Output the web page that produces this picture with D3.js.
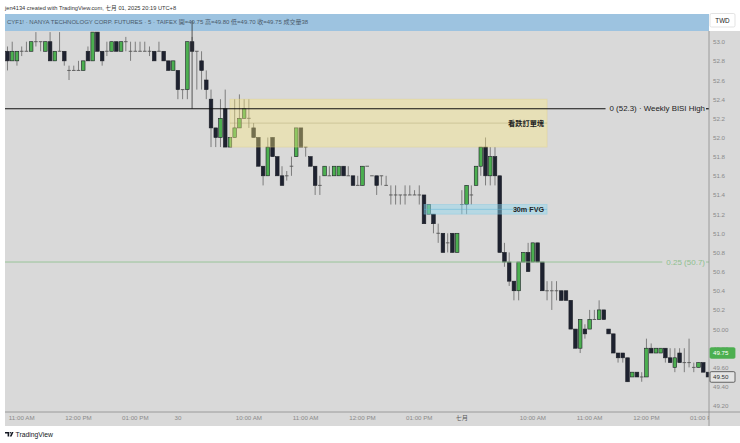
<!DOCTYPE html>
<html><head><meta charset="utf-8">
<script src="https://cdn.jsdelivr.net/npm/d3@7"></script>
<style>
body{margin:0;background:#fff;}
svg{display:block;font-family:"Liberation Sans",Arial,"Noto Sans CJK TC",sans-serif;}
</style>
</head><body>
<svg id="c" width="740" height="443"></svg>
<script>
// ---- DATA: 5-minute bars [open, high, low, close] ----
// Day 1 (27 Jun) from 10:45
const day1Bars = [
[52.90,52.95,52.70,52.80],[52.80,53.00,52.80,52.90],[52.80,52.90,52.75,52.90],[52.90,52.95,52.85,52.90],
[52.90,53.00,52.90,52.90],[52.90,53.00,52.90,53.00],[53.00,53.10,52.95,53.00],[53.00,53.00,52.90,53.00],
[52.90,53.00,52.90,53.00],[53.00,53.10,52.80,52.80],[52.80,52.90,52.80,52.90],[52.90,53.10,52.90,52.90],
[52.90,52.90,52.75,52.80],[52.70,52.75,52.60,52.70],[52.70,52.75,52.70,52.70],[52.70,52.80,52.70,52.70],
[52.70,52.80,52.70,52.80],[52.90,52.95,52.80,52.80],[52.80,53.10,52.80,53.10],[53.10,53.10,52.90,52.90],
[52.90,52.90,52.75,52.80],[52.90,53.00,52.85,52.90],[52.90,53.00,52.90,53.00],[53.00,53.00,52.90,52.90],
[52.90,53.00,52.90,53.00],[53.00,53.05,52.90,53.00],[52.90,53.00,52.80,52.90],[52.90,53.00,52.90,52.90],
[52.90,53.00,52.90,52.90],[52.90,53.00,52.90,52.90],[52.90,52.95,52.85,52.90],[52.90,52.90,52.80,52.80],
[52.90,53.00,52.90,52.90],[52.90,52.90,52.80,52.80],[52.80,52.80,52.70,52.70],[52.70,52.80,52.70,52.80]
];
// Day 2 (30 Jun) from 08:45
const day2Bars = [
[52.70,52.70,52.40,52.50],[52.50,52.50,52.40,52.50],[52.50,53.00,52.40,53.00],[53.00,53.05,52.90,52.90],
[52.90,52.90,52.50,52.90],[52.80,52.90,52.50,52.70],[52.60,52.70,52.40,52.50],[52.40,52.50,51.90,52.10],
[52.10,52.10,51.90,52.00],[52.00,52.40,51.90,52.20],[52.30,52.50,51.90,51.90],[51.90,52.00,51.90,52.00],
[52.00,52.40,52.00,52.10],[52.10,52.45,52.10,52.20],[52.20,52.40,52.20,52.30],[52.20,52.40,52.10,52.20],
[52.10,52.15,52.00,52.00],[52.00,52.00,51.70,51.70],[51.70,51.70,51.50,51.60],[51.60,52.00,51.60,51.90],
[52.00,52.00,51.80,51.80],[51.80,51.80,51.60,51.60],[51.60,51.70,51.50,51.50],[51.60,51.65,51.55,51.60],
[51.70,51.80,51.60,51.70],[51.80,52.10,51.80,52.10],[52.10,52.10,51.90,51.90],[51.90,51.90,51.80,51.90],
[51.80,51.80,51.70,51.70],[51.70,51.70,51.40,51.50],[51.50,51.60,51.40,51.50],[51.60,51.70,51.60,51.70],
[51.60,51.70,51.60,51.60],[51.60,51.70,51.60,51.70],[51.60,51.70,51.60,51.70],[51.70,51.70,51.60,51.60],
[51.60,51.70,51.60,51.60],[51.60,51.60,51.50,51.50],[51.50,51.60,51.50,51.50],[51.50,51.70,51.50,51.70],
[51.70,51.70,51.70,51.70],[51.60,51.60,51.60,51.60],[51.60,51.60,51.40,51.50],[51.60,51.60,51.50,51.60],
[51.50,51.60,51.50,51.50],[51.40,51.50,51.30,51.40],[51.40,51.50,51.30,51.40],[51.40,51.40,51.30,51.40],
[51.40,51.50,51.30,51.40],[51.40,51.50,51.40,51.40],[51.40,51.45,51.40,51.40],[51.40,51.50,51.30,51.40],
[51.40,51.40,51.10,51.10],[51.20,51.30,51.20,51.30],[51.20,51.20,51.00,51.10],[51.00,51.10,50.90,51.00],
[51.00,51.00,50.80,50.80],[50.90,51.00,50.80,50.90],[51.00,51.00,50.80,50.80],[50.80,51.00,50.80,51.00]
];
// Day 3 (01 Jul) from 08:45
const day3Bars = [
[51.30,51.45,51.20,51.30],[51.30,51.50,51.20,51.50],[51.40,51.50,51.30,51.40],[51.50,51.70,51.50,51.70],
[51.70,51.90,51.60,51.90],[51.90,52.00,51.50,51.60],[51.60,51.90,51.50,51.80],[51.80,51.90,51.50,51.60],
[51.60,51.60,50.80,50.80],[50.80,50.90,50.65,50.70],[50.70,50.80,50.45,50.50],[50.50,50.50,50.30,50.40],
[50.40,50.70,50.30,50.70],[50.70,50.80,50.70,50.80],[50.80,50.90,50.60,50.60],[50.70,50.90,50.70,50.90],
[50.90,50.90,50.70,50.70],[50.70,50.70,50.40,50.40],[50.40,50.50,50.30,50.40],[50.40,50.50,50.20,50.40],
[50.40,50.50,50.30,50.40],[50.40,50.40,50.30,50.30],[50.40,50.40,50.30,50.30],[50.30,50.30,50.00,50.00],
[50.00,50.00,49.80,49.80],[49.80,50.10,49.75,50.10],[50.00,50.05,49.90,49.95],[50.00,50.20,50.00,50.10],
[50.10,50.20,50.10,50.10],[50.10,50.30,50.10,50.20],[50.20,50.20,50.10,50.10],[50.00,50.00,49.95,49.95],
[49.95,49.95,49.75,49.75],[49.75,49.75,49.65,49.70],[49.75,49.75,49.65,49.70],[49.70,49.70,49.45,49.45],
[49.50,49.55,49.50,49.55],[49.55,49.55,49.50,49.50],[49.50,49.55,49.45,49.50],[49.50,49.90,49.50,49.80],
[49.80,49.85,49.75,49.75],[49.75,49.80,49.75,49.80],[49.75,49.80,49.75,49.80],[49.80,49.80,49.65,49.70],
[49.70,49.80,49.65,49.65],[49.60,49.80,49.55,49.70],[49.75,49.80,49.65,49.65],[49.65,49.80,49.55,49.65],
[49.65,49.90,49.60,49.65],[49.60,49.65,49.55,49.60],[49.60,49.65,49.60,49.65],[49.65,49.65,49.55,49.55],
[49.55,49.55,49.50,49.50]
];
const sessions = [
  {day:"d1", start:"10:45", bars:day1Bars},
  {day:"d2", start:"08:45", bars:day2Bars},
  {day:"d3", start:"08:45", bars:day3Bars}
];
const tickKeys   = ["d1 11:00","d1 12:00","d1 13:00","d2 08:45","d2 10:00","d2 11:00","d2 12:00","d2 13:00","d3 08:45","d3 10:00","d3 11:00","d3 12:00","d3 13:00"];
const tickLabels = ["11:00 AM","12:00 PM","01:00 PM","30","10:00 AM","11:00 AM","12:00 PM","01:00 PM","七月","10:00 AM","11:00 AM","12:00 PM","01:00 PM"];
const monthTickLabels = ["七月"];
const priceTicks = [53.0,52.8,52.6,52.4,52.2,52.0,51.8,51.6,51.4,51.2,51.0,50.8,50.6,50.4,50.2,50.0,49.8,49.6,49.4,49.2];
const lastPrice = 49.75, markPrice = 49.50;
const bisiLevel = 52.3, fibLevel = 50.7;
const obZone = {top:52.40, bottom:51.90, mid:52.15, from:"d2 09:40", to:"d3 10:15", label:"看跌訂單塊"};
const fvgZone = {top:51.30, bottom:51.20, mid:51.25, from:"d2 13:05", to:"d3 10:15", label:"30m FVG"};
const crossKey = "d2 09:00";

// ---- build bars ----
function addMin(t, m){const [h,mm]=t.split(":").map(Number);const v=h*60+mm+m;return String(Math.floor(v/60)).padStart(2,"0")+":"+String(v%60).padStart(2,"0");}
const bars = [];
sessions.forEach(s => s.bars.forEach((b,i) => bars.push({key:s.day+" "+addMin(s.start,i*5), o:b[0], h:b[1], l:b[2], c:b[3]})));

const svg = d3.select("#c");
const L = 5, R = 709, T = 31, B = 412;
const step = 4.733;
const x = d3.scaleBand().domain(bars.map(d=>d.key)).range([5.13, 5.13 + bars.length*step]);
const cx = k => x(k) + x.bandwidth()/2;
const y = d3.scaleLinear().domain([49.2, 53.0]).range([405.7, 41.7]);

// backgrounds
svg.append("rect").attr("x",L).attr("y",T).attr("width",740-L).attr("height",426-T).attr("fill","#d9d9d9");
svg.append("rect").attr("x",L).attr("y",14).attr("width",R-L).attr("height",T-14).attr("fill","#9dc3e0");

const defs = svg.append("defs");
defs.append("clipPath").attr("id","plot").append("rect")
  .attr("x",L).attr("y",T).attr("width",R-L).attr("height",B-T);
defs.append("clipPath").attr("id","xax").append("rect")
  .attr("x",L).attr("y",0).attr("width",R-L).attr("height",14);

const plot = svg.append("g").attr("clip-path","url(#plot)");

// vertical marker line
svg.append("line").attr("x1",cx(crossKey)).attr("x2",cx(crossKey)).attr("y1",21).attr("y2",y(bisiLevel))
  .attr("stroke","#333").attr("stroke-width",0.8);

// candles
const bw = 3.6;
const cg = plot.append("g");
cg.selectAll("line.w").data(bars).join("line").attr("class","w")
  .attr("x1",d=>cx(d.key)).attr("x2",d=>cx(d.key)).attr("y1",d=>y(d.h)).attr("y2",d=>y(d.l))
  .attr("stroke","#666").attr("stroke-width",0.8);
cg.selectAll("rect.b").data(bars.filter(d=>d.o!==d.c)).join("rect").attr("class","b")
  .attr("x",d=>cx(d.key)-bw/2).attr("width",bw)
  .attr("y",d=>y(Math.max(d.o,d.c))).attr("height",d=>Math.abs(y(d.o)-y(d.c)))
  .attr("fill",d=>d.c>d.o?"#4caf50":"#1e2230")
  .attr("stroke","#1c1f26").attr("stroke-width",0.6);
cg.selectAll("line.d").data(bars.filter(d=>d.o===d.c)).join("line").attr("class","d")
  .attr("x1",d=>cx(d.key)-bw/2).attr("x2",d=>cx(d.key)+bw/2).attr("y1",d=>y(d.c)).attr("y2",d=>y(d.c))
  .attr("stroke","#555").attr("stroke-width",0.9);

// zones
function zone(z, fill, stroke, midStroke){
  const x1 = cx(z.from), x2 = cx(z.to);
  plot.append("rect").attr("x",x1).attr("y",y(z.top)).attr("width",x2-x1).attr("height",y(z.bottom)-y(z.top))
    .attr("fill",fill).attr("stroke",stroke).attr("stroke-width",0.6);
  plot.append("line").attr("x1",x1).attr("x2",x2).attr("y1",y(z.mid)).attr("y2",y(z.mid))
    .attr("stroke",midStroke).attr("stroke-width",0.6);
  return x2;
}
const obR = zone(obZone, "rgba(255,236,130,0.38)", "rgba(230,210,120,0.5)", "rgba(150,140,90,0.55)");
plot.append("text").attr("x",obR-3).attr("y",y(obZone.mid)+2.6).attr("text-anchor","end")
  .attr("font-size",7.2).attr("font-weight","bold").attr("fill","#222").text(obZone.label);
const fvR = zone(fvgZone, "rgba(140,215,240,0.45)", "rgba(120,200,230,0.6)", "rgba(90,180,215,0.8)");
plot.append("text").attr("x",fvR-3).attr("y",y(fvgZone.mid)+2.6).attr("text-anchor","end")
  .attr("font-size",7.2).attr("font-weight","bold").attr("fill","#222").text(fvgZone.label);

// levels
const bisiT = svg.append("text").attr("x",705).attr("y",y(bisiLevel)+2.7).attr("text-anchor","end")
  .attr("font-size",7.9).attr("fill","#222").text("0 ("+bisiLevel.toFixed(1)+") · Weekly BISI High");
const bw1 = bisiT.node().getComputedTextLength();
svg.append("line").attr("x1",L).attr("x2",705-bw1-4).attr("y1",y(bisiLevel)).attr("y2",y(bisiLevel)).attr("stroke","#111").attr("stroke-width",1.2);
svg.append("line").attr("x1",706).attr("x2",R).attr("y1",y(bisiLevel)).attr("y2",y(bisiLevel)).attr("stroke","#111").attr("stroke-width",1.2);

const fibT = svg.append("text").attr("x",705).attr("y",y(fibLevel)+2.7).attr("text-anchor","end")
  .attr("font-size",8).attr("fill","#8fbf8f").text("0.25 ("+fibLevel.toFixed(1)+")");
const fw = fibT.node().getComputedTextLength();
svg.append("line").attr("x1",L).attr("x2",705-fw-4).attr("y1",y(fibLevel)).attr("y2",y(fibLevel)).attr("stroke","#92c292").attr("stroke-width",0.9);
svg.append("line").attr("x1",706).attr("x2",R).attr("y1",y(fibLevel)).attr("y2",y(fibLevel)).attr("stroke","#92c292").attr("stroke-width",0.9);

// axes lines
svg.append("line").attr("x1",R).attr("x2",R).attr("y1",T).attr("y2",426).attr("stroke","#8a8a8a").attr("stroke-width",0.8);
svg.append("line").attr("x1",L).attr("x2",740).attr("y1",B).attr("y2",B).attr("stroke","#8a8a8a").attr("stroke-width",0.8);

// right axis
const ya = svg.append("g").attr("transform",`translate(${R},0)`)
  .call(d3.axisRight(y).tickValues(priceTicks).tickSize(0).tickPadding(4)
    .tickFormat(v => v >= 50.1 ? v.toFixed(1) : v.toFixed(2)));
ya.select(".domain").remove();
ya.selectAll("text").attr("font-size",6.2).attr("fill","#8a8a8a").attr("font-family","Liberation Sans, Arial, sans-serif");

// bottom axis
const xa = svg.append("g").attr("transform",`translate(0,${B})`).attr("clip-path","url(#xax)");
xa.call(d3.axisBottom(x).tickValues(tickKeys).tickSize(0).tickPadding(4)
  .tickFormat(k => tickLabels[tickKeys.indexOf(k)]));
xa.select(".domain").remove();
xa.selectAll("text").attr("font-size",6.2).attr("font-family","Liberation Sans, Arial, Noto Sans CJK TC, sans-serif")
  .attr("fill",function(){return monthTickLabels.includes(this.textContent)?"#555":"#8a8a8a";});

// price labels
function priceTag(v, fill, stroke, color){
  const g = svg.append("g");
  g.append("rect").attr("x",R+1).attr("y",y(v)-5.3).attr("width",25).attr("height",10.6).attr("rx",1.2)
    .attr("fill",fill).attr("stroke",stroke).attr("stroke-width",0.8);
  g.append("text").attr("x",R+4).attr("y",y(v)+2.2).attr("font-size",6.2).attr("fill",color).text(v.toFixed(2));
}
priceTag(lastPrice, "#4caf50", "#4caf50", "#fff");
priceTag(markPrice, "#e4e4e4", "#444", "#333");

// header texts
svg.append("text").attr("x",5).attr("y",9.8).attr("font-size",5.7).attr("fill","#333")
  .text("jen4134 created with TradingView.com, 七月 01, 2025 20:19 UTC+8");
svg.append("text").attr("x",7).attr("y",23.6).attr("font-size",6.0).attr("fill","#4a5a6a")
  .text("CYF1! · NANYA TECHNOLOGY CORP. FUTURES · 5 · TAIFEX  開=49.75  高=49.80  低=49.70  收=49.75  成交量38");
svg.append("rect").attr("x",710).attr("y",13.5).attr("width",25).attr("height",13.5).attr("rx",1.5)
  .attr("fill","#fff").attr("stroke","#d0d0d0").attr("stroke-width",0.6);
svg.append("text").attr("x",722.5).attr("y",22.6).attr("text-anchor","middle").attr("font-size",6.3).attr("fill","#222").text("TWD");

// TradingView logo
const lg = svg.append("g").attr("fill","#131722");
lg.append("path").attr("d","M5,432 h4.2 v4.6 h-1.6 v-3.1 h-2.6 z");
lg.append("circle").attr("cx",10.4).attr("cy",432.8).attr("r",0.8);
lg.append("path").attr("d","M11.8,432 h1.7 l-2,4.6 h-1.7 z");
svg.append("text").attr("x",15.5).attr("y",437).attr("font-size",6.8).attr("fill","#131722").text("TradingView");
</script>
</body></html>
